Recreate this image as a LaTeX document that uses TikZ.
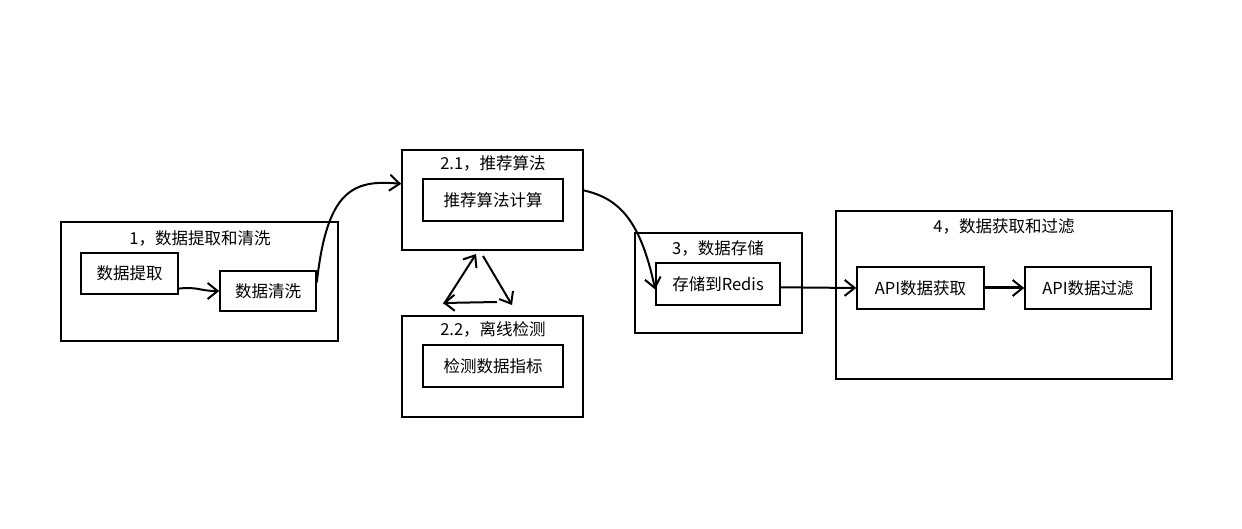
\documentclass[tikz,border=0pt]{standalone}
\usepackage{fontspec}
\setmainfont{Noto Sans CJK SC}
\usetikzlibrary{arrows.meta}
\tikzset{
  grp/.style={draw=black, line width=1.6pt, rectangle, inner sep=0pt},
  box/.style={draw=black, line width=1.6pt, rectangle, inner sep=0pt, font=\fontsize{16.5}{19}\selectfont},
  ttl/.style={inner sep=0pt, font=\fontsize{16.5}{19}\selectfont},
  arr/.style={line width=2pt, -{Straight Barb[length=10pt,width=16pt,line width=2pt]}},
  tarr/.style={line width=3pt, -{Straight Barb[length=10pt,width=16pt,line width=2pt]}},
}
\begin{document}
\begin{tikzpicture}[x=1pt,y=-1pt]
\useasboundingbox[fill=white] (0,0) rectangle (1242,529);
% group 1
\node[grp, minimum width=277pt, minimum height=119pt] (g1) at (199.5,281.5) {};
\node[ttl] (g1t) at (200,238) {1，数据提取和清洗};
\node[box, minimum width=97pt, minimum height=41pt] (tq) at (129.5,273.5) {数据提取};
\node[box, minimum width=96pt, minimum height=40pt] (qx) at (268,291) {数据清洗};
% group 2.1
\node[grp, minimum width=181pt, minimum height=100pt] (g21) at (492.5,200) {};
\node[ttl] (g21t) at (493,163) {2.1，推荐算法};
\node[box, minimum width=140pt, minimum height=42pt] (tj) at (493,200) {推荐算法计算};
% group 2.2
\node[grp, minimum width=181pt, minimum height=101pt] (g22) at (492.5,366.5) {};
\node[ttl] (g22t) at (493,329) {2.2，离线检测};
\node[box, minimum width=140pt, minimum height=42pt] (jc) at (493,366) {检测数据指标};
% group 3
\node[grp, minimum width=167pt, minimum height=100pt] (g3) at (718.5,283) {};
\node[ttl] (g3t) at (718,248) {3，数据存储};
\node[box, minimum width=124pt, minimum height=42pt] (rd) at (718,284) {存储到Redis};
% group 4
\node[grp, minimum width=336pt, minimum height=168pt] (g4) at (1004,295) {};
\node[ttl] (g4t) at (1004,226) {4，数据获取和过滤};
\node[box, minimum width=127pt, minimum height=42pt] (a1) at (920.5,288) {API数据获取};
\node[box, minimum width=126pt, minimum height=42pt] (a2) at (1088,288) {API数据过滤};
% connectors
\draw[arr] (tq.-17) .. controls +(20,-2) and +(-20,0) .. (qx.west);
\draw[arr] (qx.10) .. controls +(10,-90) and +(-50,-5) .. (g21.170);
\draw[arr] (g21.6) .. controls +(35,8) and +(-15,-70) .. (rd.185);
\draw[arr] (rd.-3) -- (a1.west);
\draw[tarr] (a1.east) -- (a2.west);
% triangle
\coordinate (ta) at (444,304);
\coordinate (tb) at (476,254);
\coordinate (tc) at (483,256);
\coordinate (td) at (512,305);
\coordinate (te) at (497,302);
\coordinate (tf) at (443,303);
\draw[arr] (ta) -- (tb);
\draw[arr] (tc) -- (td);
\draw[arr] (te) -- (tf);
\end{tikzpicture}
\end{document}
